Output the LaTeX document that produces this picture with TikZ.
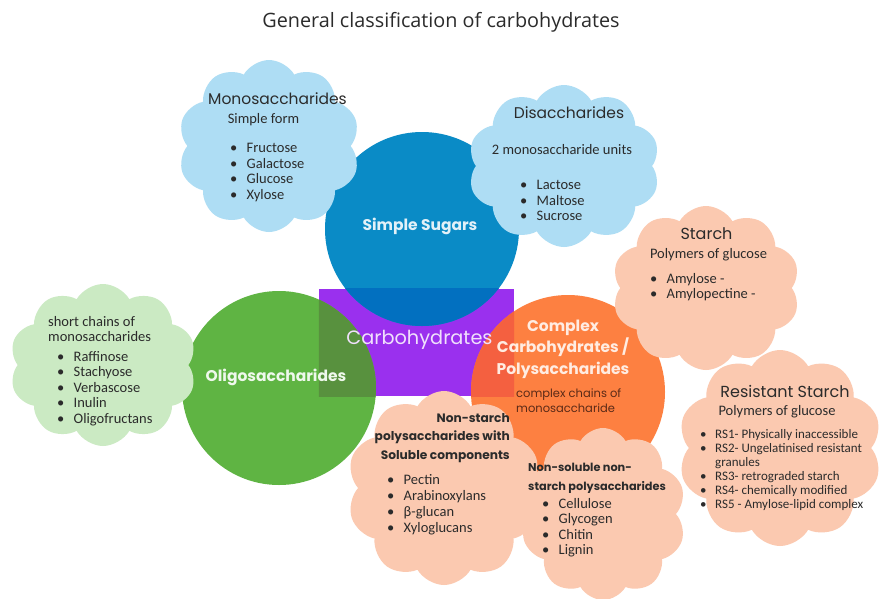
\documentclass[tikz,border=0pt]{standalone}
\usepackage{fontspec}
\setmainfont{Carlito}
\newfontfamily\headfont{Poppins}
\newfontfamily\titlefont{Open Sans}
\usetikzlibrary{shapes.symbols}

\definecolor{sugarc}{HTML}{0A8BC6}
\definecolor{sugardeep}{HTML}{0270C0}
\definecolor{carbc}{HTML}{9A30EE}
\definecolor{oligoc}{HTML}{5FB443}
\definecolor{oligodeep}{HTML}{58913E}
\definecolor{polyc}{HTML}{FD8041}
\definecolor{polydeep}{HTML}{F46040}
\definecolor{skyc}{HTML}{AEDDF4}
\definecolor{mintc}{HTML}{CBEAC3}
\definecolor{peachc}{HTML}{FBC9B0}
\definecolor{inkc}{HTML}{2B2B2B}
\definecolor{brownc}{HTML}{5B2A17}

\newcommand{\itm}{\makebox[16.5pt][l]{\textbullet}}

\tikzset{
  puffy/.style={cloud, cloud puffs=10, cloud puff arc=120, draw=none, inner sep=0pt},
  bigdisc/.style={circle, inner sep=0pt, minimum size=194pt},
  bodytext/.style={inner sep=0pt, text=inkc, align=left,
    font=\fontsize{14.5}{15.5}\selectfont},
  cloudhead/.style={inner sep=0pt, text=inkc,
    font=\headfont\fontsize{15.5}{17}\selectfont},
  disclabel/.style={inner sep=0pt, align=center,
    font=\headfont\bfseries\fontsize{15.5}{21.5}\selectfont},
}

\begin{document}
\begin{tikzpicture}[x=1pt,y=-1pt]
  \useasboundingbox[fill=white] (0,0) rectangle (883,598);

  \node[inner sep=0pt, text=inkc, font=\titlefont\fontsize{19.8}{22}\selectfont]
    (title) at (441,22) {General classification of carbohydrates};

  % central box and the three discs
  \node[fill=carbc, minimum width=195pt, minimum height=107pt, inner sep=0pt]
    (carbs) at (416.5,342.5) {};
  \node[bigdisc, fill=sugarc] (sugars) at (422,229) {};
  \node[bigdisc, fill=oligoc] (oligo) at (279,388) {};
  \node[bigdisc, fill=polyc] (poly) at (568,392) {};

  % darker where the discs cross the box
  \begin{scope}
    \clip (carbs.south west) rectangle (carbs.north east);
    \fill[sugardeep] (sugars.center) circle (97);
    \fill[oligodeep] (oligo.center) circle (97);
    \fill[polydeep] (poly.center) circle (97);
  \end{scope}

  \node[disclabel, text=white!88!sugarc] (sugarstext) at (420,226) {Simple Sugars};
  \node[disclabel, text=white!90!oligoc] (oligotext) at (276,377) {Oligosaccharides};
  \node[disclabel, text=white!85!polyc] (polytext) at (563,349)
    {Complex\\Carbohydrates /\\Polysaccharides};
  \node[inner sep=0pt, text=white!85!carbc, font=\headfont\fontsize{19.3}{22}\selectfont]
    (carbstext) at (419.5,340) {Carbohydrates};
  \node[inner sep=0pt, text=brownc, align=left, anchor=north west,
    font=\headfont\fontsize{11.5}{15}\selectfont]
    (polynote) at (516,389) {complex chains of\\monosaccharide};

  % clouds
  \node[puffy, fill=skyc, minimum width=182pt, minimum height=172pt] (monocloud) at (269,146) {};
  \node[puffy, fill=skyc, minimum width=192pt, minimum height=162pt] (dicloud) at (564,166) {};
  \node[puffy, fill=mintc, minimum width=187pt, minimum height=162pt] (oligocloud) at (103,365) {};
  \node[puffy, fill=peachc, minimum width=188pt, minimum height=164pt] (starchcloud) at (706,288) {};
  \node[puffy, fill=peachc, minimum width=204pt, minimum height=196pt] (rscloud) at (780,448) {};
  \node[puffy, fill=peachc, minimum width=194pt, minimum height=194pt] (nspcloud) at (444,488) {};
  \node[puffy, fill=peachc, minimum width=166pt, minimum height=172pt] (nsolcloud) at (603,514) {};

  % monosaccharides
  \node[cloudhead] (monohead) at (277.5,99) {Monosaccharides};
  \node[bodytext] (monosub) at (263.5,120) {Simple form};
  \node[bodytext, anchor=north west] (monolist) at (230,143)
    {\itm Fructose\\\itm Galactose\\\itm Glucose\\\itm Xylose};

  % disaccharides
  \node[cloudhead] (dihead) at (569,113) {Disaccharides};
  \node[bodytext] (disub) at (562,150) {2 monosaccharide units};
  \node[bodytext, anchor=north west] (dilist) at (520,180)
    {\itm Lactose\\\itm Maltose\\\itm Sucrose};

  % starch
  \node[cloudhead, font=\headfont\fontsize{16}{18}\selectfont] (starchhead) at (706.5,234) {Starch};
  \node[bodytext] (starchsub) at (708.5,255) {Polymers of glucose};
  \node[bodytext, anchor=north west] (starchlist) at (650,273)
    {\itm Amylose -\\\itm Amylopectine -};

  % resistant starch
  \node[cloudhead, font=\headfont\fontsize{16}{18}\selectfont] (rshead) at (785,391) {Resistant Starch};
  \node[bodytext] (rssub) at (777,412) {Polymers of glucose};
  \node[bodytext, anchor=north west, font=\fontsize{13}{14}\selectfont] (rslist) at (700,429.5)
    {\makebox[15pt][l]{\textbullet}RS1- Physically inaccessible\\
     \makebox[15pt][l]{\textbullet}RS2- Ungelatinised resistant\\
     \makebox[15pt][l]{}granules\\
     \makebox[15pt][l]{\textbullet}RS3- retrograded starch\\
     \makebox[15pt][l]{\textbullet}RS4- chemically modified\\
     \makebox[15pt][l]{\textbullet}RS5 - Amylose-lipid complex};

  % oligosaccharides
  \node[bodytext, anchor=north west, font=\fontsize{14.5}{15}\selectfont] (oligosub) at (48,316)
    {short chains of\\monosaccharides};
  \node[bodytext, anchor=north west] (oligolist) at (57,351)
    {\itm Raffinose\\\itm Stachyose\\\itm Verbascose\\\itm Inulin\\\itm Oligofructans};

  % non-starch, soluble
  \node[inner sep=0pt, text=inkc, align=right, anchor=north east,
    font=\headfont\bfseries\fontsize{12.2}{18.5}\selectfont]
    (nsphead) at (510,413) {Non-starch\\polysaccharides with\\Soluble components};
  \node[bodytext, anchor=north west, font=\fontsize{14.5}{16}\selectfont] (nsplist) at (387,474)
    {\itm Pectin\\\itm Arabinoxylans\\\itm β-glucan\\\itm Xyloglucans};

  % non-soluble
  \node[inner sep=0pt, text=inkc, align=left, anchor=north west,
    font=\headfont\bfseries\fontsize{11.3}{19}\selectfont]
    (nsolhead) at (528,463) {Non-soluble non-\\starch polysaccharides};
  \node[bodytext, anchor=north west] (nsollist) at (542,498)
    {\itm Cellulose\\\itm Glycogen\\\itm Chitin\\\itm Lignin};
\end{tikzpicture}
\end{document}
